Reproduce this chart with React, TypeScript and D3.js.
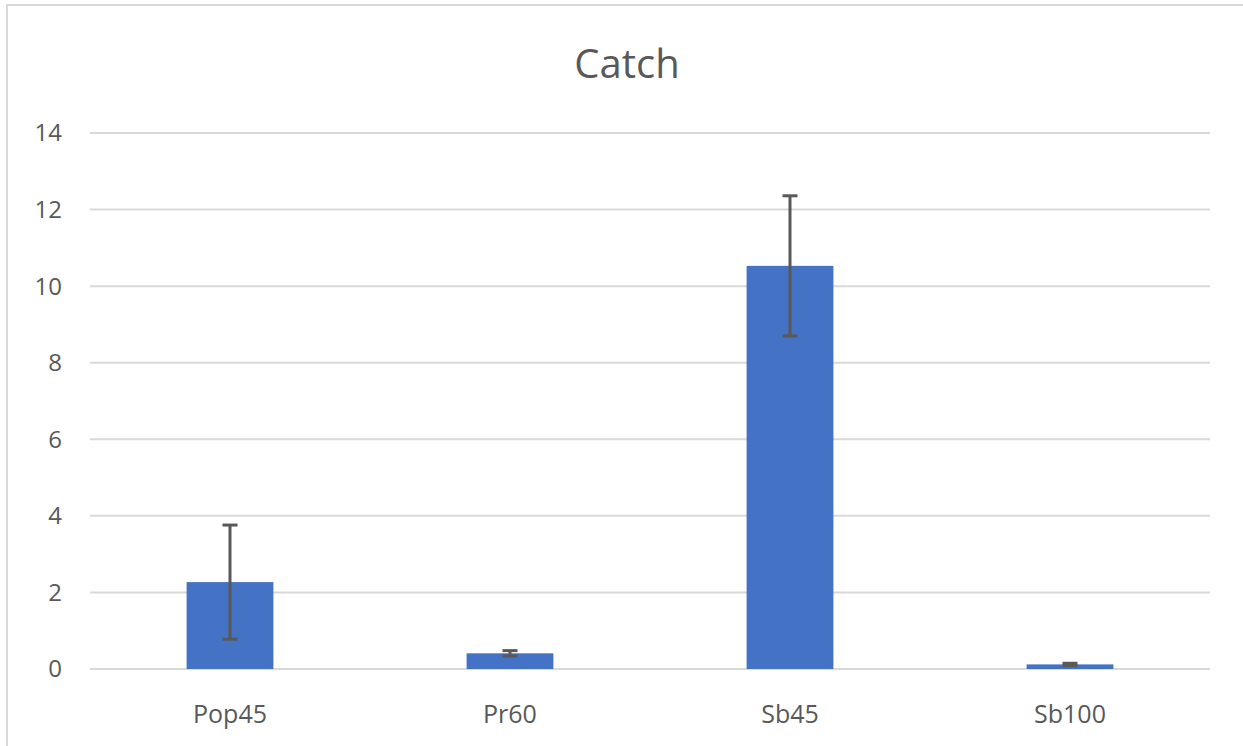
import { useEffect, useRef } from "react";
import * as d3 from "d3";

const categories = ["Pop45", "Pr60", "Sb45", "Sb100"];
const values = [2.27, 0.41, 10.53, 0.12];
const errors = [1.49, 0.07, 1.83, 0.03];
const yTicks = [0, 2, 4, 6, 8, 10, 12, 14];

const W = 1243;
const H = 746;
const FONT = "'Open Sans', 'Liberation Sans', sans-serif";
const TEXT = "#595959";

export default function App() {
    const svgRef = useRef<SVGSVGElement | null>(null);

    useEffect(() => {
        const svg = d3.select(svgRef.current!);
        svg.selectAll("*").remove();

        const left = 90;
        const right = 1210;
        const top = 133;
        const bottom = 669;

        const x = d3.scaleBand<string>().domain(categories).range([left, right]).padding(0);
        const y = d3.scaleLinear().domain([0, 14]).range([bottom, top]);

        // chart area border
        svg.append("rect")
            .attr("x", 7)
            .attr("y", 5)
            .attr("width", 1260)
            .attr("height", 780)
            .attr("fill", "white")
            .attr("stroke", "#d9d9d9")
            .attr("stroke-width", 2);

        svg.append("text")
            .attr("x", 627)
            .attr("y", 78)
            .attr("text-anchor", "middle")
            .attr("font-family", FONT)
            .attr("font-size", 40)
            .attr("fill", TEXT)
            .text("Catch");

        // gridlines
        svg.append("g")
            .selectAll("line")
            .data(yTicks)
            .join("line")
            .attr("x1", left)
            .attr("x2", right)
            .attr("y1", (d) => y(d))
            .attr("y2", (d) => y(d))
            .attr("stroke", "#d9d9d9")
            .attr("stroke-width", 2);

        svg.append("g")
            .selectAll("text")
            .data(yTicks)
            .join("text")
            .attr("x", 62)
            .attr("y", (d) => y(d))
            .attr("dy", "0.35em")
            .attr("text-anchor", "end")
            .attr("font-family", FONT)
            .attr("font-size", 24)
            .attr("fill", TEXT)
            .text((d) => String(d));

        const bw = x.bandwidth() * 0.31;

        svg.append("g")
            .selectAll("rect")
            .data(categories)
            .join("rect")
            .attr("x", (d) => x(d)! + x.bandwidth() / 2 - bw / 2)
            .attr("y", (_d, i) => y(values[i]))
            .attr("width", bw)
            .attr("height", (_d, i) => y(0) - y(values[i]))
            .attr("fill", "#4472c4");

        // error bars
        const eb = svg.append("g").attr("stroke", "#595959").attr("stroke-width", 3);
        categories.forEach((c, i) => {
            const cx = x(c)! + x.bandwidth() / 2;
            const hi = y(values[i] + errors[i]);
            const lo = y(values[i] - errors[i]);
            eb.append("line").attr("x1", cx).attr("x2", cx).attr("y1", hi).attr("y2", lo);
            eb.append("line").attr("x1", cx - 7.5).attr("x2", cx + 7.5).attr("y1", hi).attr("y2", hi);
            eb.append("line").attr("x1", cx - 7.5).attr("x2", cx + 7.5).attr("y1", lo).attr("y2", lo);
        });

        svg.append("g")
            .selectAll("text")
            .data(categories)
            .join("text")
            .attr("x", (d) => x(d)! + x.bandwidth() / 2)
            .attr("y", 723)
            .attr("text-anchor", "middle")
            .attr("font-family", FONT)
            .attr("font-size", 25)
            .attr("fill", TEXT)
            .text((d) => d);
    }, []);

    return (
        <div style={{ position: "absolute", left: 0, top: 0, width: W, height: H, overflow: "hidden", background: "white" }}>
            <svg ref={svgRef} width={W} height={H} style={{ display: "block" }} />
        </div>
    );
}
